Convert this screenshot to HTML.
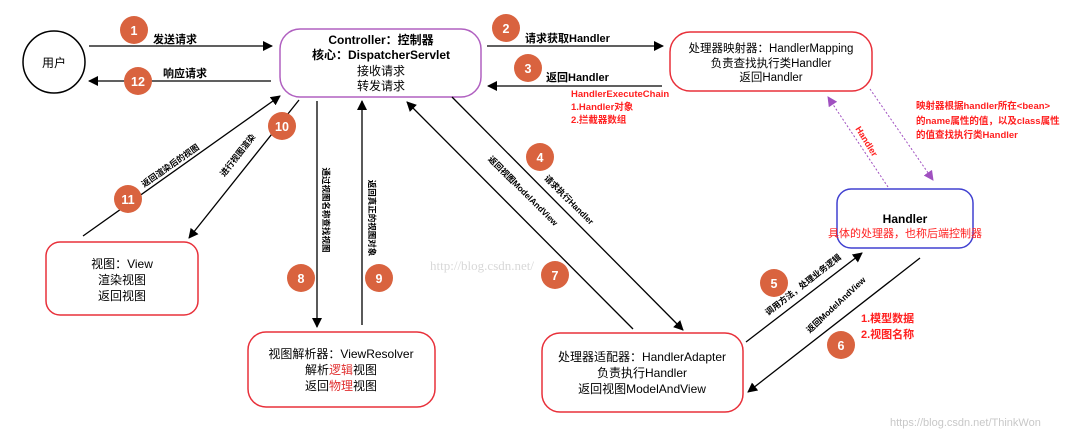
<!DOCTYPE html>
<html><head><meta charset="utf-8"><style>
html,body{margin:0;padding:0;background:#fff;}
svg{display:block;font-family:"Liberation Sans","Noto Sans CJK SC",sans-serif;}
.b{font-weight:bold;}
</style></head><body>
<svg width="1080" height="437" viewBox="0 0 1080 437" xmlns="http://www.w3.org/2000/svg">
<defs>
<marker id="a" markerWidth="10" markerHeight="10" refX="9" refY="5" orient="auto" markerUnits="userSpaceOnUse"><path d="M0,0 L10,5 L0,10 z" fill="#000"/></marker>
<marker id="p" markerWidth="10" markerHeight="10" refX="9" refY="5" orient="auto" markerUnits="userSpaceOnUse"><path d="M0,0 L10,5 L0,10 z" fill="#a050c0"/></marker>
</defs>
<circle cx="54" cy="62" r="31" fill="#fff" stroke="#000" stroke-width="1.5"/>
<text x="54" y="67" font-size="12" text-anchor="middle">用户</text>

<rect x="280" y="29" width="201" height="68" rx="20" fill="#fff" stroke="#b060c0" stroke-width="1.5"/>
<g font-size="12" text-anchor="middle">
<text x="381" y="44" class="b">Controller：控制器</text>
<text x="381" y="59" class="b">核心：DispatcherServlet</text>
<text x="381" y="75">接收请求</text>
<text x="381" y="90">转发请求</text>
</g>

<rect x="670" y="32" width="202" height="59" rx="20" fill="#fff" stroke="#e8303a" stroke-width="1.5"/>
<g font-size="11.5" text-anchor="middle">
<text x="771" y="52">处理器映射器：HandlerMapping</text>
<text x="771" y="67">负责查找执行类Handler</text>
<text x="771" y="81">返回Handler</text>
</g>

<rect x="837" y="189" width="136" height="59" rx="14" fill="#fff" stroke="#4040d0" stroke-width="1.5"/>
<text x="905" y="223" font-size="12" text-anchor="middle" class="b">Handler</text>
<text x="905" y="237" font-size="11" text-anchor="middle" fill="#ff2020">具体的处理器，也称后端控制器</text>

<rect x="46" y="242" width="152" height="73" rx="14" fill="#fff" stroke="#e8303a" stroke-width="1.5"/>
<g font-size="12" text-anchor="middle">
<text x="122" y="268">视图：View</text>
<text x="122" y="284">渲染视图</text>
<text x="122" y="300">返回视图</text>
</g>

<rect x="248" y="332" width="187" height="75" rx="18" fill="#fff" stroke="#e8303a" stroke-width="1.5"/>
<g font-size="12" text-anchor="middle">
<text x="341" y="358">视图解析器：ViewResolver</text>
<text x="341" y="374">解析<tspan fill="#e03030">逻辑</tspan>视图</text>
<text x="341" y="390">返回<tspan fill="#e03030">物理</tspan>视图</text>
</g>

<rect x="542" y="333" width="201" height="79" rx="18" fill="#fff" stroke="#e8303a" stroke-width="1.5"/>
<g font-size="12" text-anchor="middle">
<text x="642" y="361">处理器适配器：HandlerAdapter</text>
<text x="642" y="377">负责执行Handler</text>
<text x="642" y="393">返回视图ModelAndView</text>
</g>

<g stroke="#000" stroke-width="1.3" fill="none">
<line x1="89" y1="46" x2="272" y2="46" marker-end="url(#a)"/>
<line x1="271" y1="81" x2="89" y2="81" marker-end="url(#a)"/>
<line x1="487" y1="46" x2="663" y2="46" marker-end="url(#a)"/>
<line x1="662" y1="86" x2="488" y2="86" marker-end="url(#a)"/>
<line x1="452" y1="97" x2="683" y2="330" marker-end="url(#a)"/>
<line x1="633" y1="329" x2="407" y2="102" marker-end="url(#a)"/>
<line x1="746" y1="342" x2="862" y2="253" marker-end="url(#a)"/>
<line x1="920" y1="258" x2="748" y2="392" marker-end="url(#a)"/>
<line x1="317" y1="101" x2="317" y2="327" marker-end="url(#a)"/>
<line x1="362" y1="325" x2="362" y2="101" marker-end="url(#a)"/>
<line x1="299" y1="100" x2="189" y2="238" marker-end="url(#a)"/>
<line x1="83" y1="236" x2="280" y2="96" marker-end="url(#a)"/>
</g>
<g stroke="#a050c0" stroke-width="1" stroke-dasharray="2,2" fill="none">
<line x1="888" y1="187" x2="828" y2="97" marker-end="url(#p)"/>
<line x1="870" y1="89" x2="933" y2="180" marker-end="url(#p)"/>
</g>

<g font-size="11" class="b">
<text x="153" y="43">发送请求</text>
<text x="163" y="77">响应请求</text>
<text x="525" y="42">请求获取Handler</text>
<text x="546" y="81">返回Handler</text>
</g>
<g font-size="9.5" fill="#ff2020" class="b">
<text x="571" y="97">HandlerExecuteChain</text>
<text x="571" y="110">1.Handler对象</text>
<text x="571" y="123">2.拦截器数组</text>
</g>
<g font-size="9.5" fill="#ff2020" class="b">
<text x="916" y="109">映射器根据handler所在&lt;bean&gt;</text>
<text x="916" y="124">的name属性的值，以及class属性</text>
<text x="916" y="138">的值查找执行类Handler</text>
</g>
<text x="861" y="322" font-size="11" fill="#ff2020" class="b">1.模型数据</text>
<text x="861" y="338" font-size="11" fill="#ff2020" class="b">2.视图名称</text>
<text x="0" y="0" font-size="9" fill="#ff2020" class="b" text-anchor="middle" transform="translate(864,143) rotate(58)">Handler</text>

<g font-size="8.5" class="b" text-anchor="middle">
<text transform="translate(172,168) rotate(-35)">返回渲染后的视图</text>
<text transform="translate(240,157) rotate(-52)">进行视图渲染</text>
<text transform="translate(323,210) rotate(90)">通过视图名称查找视图</text>
<text transform="translate(369,218) rotate(90)">返回真正的视图对象</text>
<text transform="translate(521,193) rotate(45)">返回视图ModelAndView</text>
<text transform="translate(567,202) rotate(45)">请求执行Handler</text>
<text transform="translate(805,287) rotate(-38)">调用方法，处理业务逻辑</text>
<text transform="translate(838,307) rotate(-43)">返回ModelAndView</text>
</g>

<g fill="#d9633f">
<circle cx="134" cy="30" r="14"/><circle cx="138" cy="81" r="14"/>
<circle cx="506" cy="28" r="14"/><circle cx="528" cy="68" r="14"/>
<circle cx="540" cy="157" r="14"/><circle cx="774" cy="283" r="14"/>
<circle cx="841" cy="345" r="14"/><circle cx="555" cy="275" r="14"/>
<circle cx="301" cy="278" r="14"/><circle cx="379" cy="278" r="14"/>
<circle cx="282" cy="126" r="14"/><circle cx="128" cy="199" r="14"/>
</g>
<g fill="#fff" font-size="12.5" class="b" text-anchor="middle">
<text x="134" y="35">1</text><text x="138" y="86">12</text>
<text x="506" y="33">2</text><text x="528" y="73">3</text>
<text x="540" y="162">4</text><text x="774" y="288">5</text>
<text x="841" y="350">6</text><text x="555" y="280">7</text>
<text x="301" y="283">8</text><text x="379" y="283">9</text>
<text x="282" y="131">10</text><text x="128" y="204">11</text>
</g>

<text x="430" y="270" font-size="13" fill="#d8d8d8" font-family="Liberation Serif,serif">http://blog.csdn.net/</text>
<text x="890" y="426" font-size="11" fill="#c8c8c8">https://blog.csdn.net/ThinkWon</text>
</svg>
</body></html>
